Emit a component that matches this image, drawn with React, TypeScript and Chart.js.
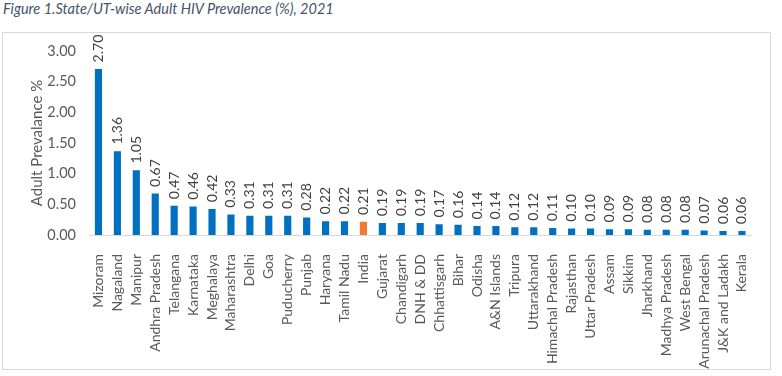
import React, { useEffect, useRef } from "react";
import { Chart, registerables } from "chart.js";

Chart.register(...registerables);

const TITLE = "Figure 1.State/UT-wise Adult HIV Prevalence (%), 2021";
const Y_TITLE = "Adult Prevalance %";

const categories = [
  "Mizoram", "Nagaland", "Manipur", "Andhra Pradesh", "Telangana", "Karnataka",
  "Meghalaya", "Maharashtra", "Delhi", "Goa", "Puducherry", "Punjab", "Haryana",
  "Tamil Nadu", "India", "Gujarat", "Chandigarh", "DNH & DD", "Chhattisgarh",
  "Bihar", "Odisha", "A&N Islands", "Tripura", "Uttarakhand", "Himachal Pradesh",
  "Rajasthan", "Uttar Pradesh", "Assam", "Sikkim", "Jharkhand", "Madhya Pradesh",
  "West Bengal", "Arunachal Pradesh", "J&K and Ladakh", "Kerala",
];

const prevalence = [
  2.7, 1.36, 1.05, 0.67, 0.47, 0.46, 0.42, 0.33, 0.31, 0.31, 0.31, 0.28, 0.22,
  0.22, 0.21, 0.19, 0.19, 0.19, 0.17, 0.16, 0.14, 0.14, 0.12, 0.12, 0.11, 0.1,
  0.1, 0.09, 0.09, 0.08, 0.08, 0.08, 0.07, 0.06, 0.06,
];

const highlight = "India";

const FONT = "Lato, 'Open Sans', sans-serif";

const valueLabels = {
  id: "valueLabels",
  afterDatasetsDraw(chart: any) {
    const ctx = chart.ctx;
    const meta = chart.getDatasetMeta(0);
    const data = chart.data.datasets[0].data as number[];
    ctx.save();
    ctx.fillStyle = "#404040";
    ctx.font = `14px ${FONT}`;
    ctx.textAlign = "left";
    ctx.textBaseline = "middle";
    meta.data.forEach((bar: any, i: number) => {
      ctx.save();
      ctx.translate(bar.x, bar.y - 7);
      ctx.rotate(-Math.PI / 2);
      ctx.fillText(data[i].toFixed(2), 0, 0);
      ctx.restore();
    });
    ctx.restore();
  },
};

export default function App() {
  const ref = useRef<HTMLCanvasElement>(null);

  useEffect(() => {
    document.body.style.margin = "0";
    const chart = new Chart(ref.current!, {
      type: "bar",
      data: {
        labels: categories,
        datasets: [
          {
            data: prevalence,
            backgroundColor: categories.map((c) => (c === highlight ? "#ED7D31" : "#0070C0")),
            barThickness: 6.5,
          },
        ],
      },
      options: {
        animation: false,
        responsive: false,
        maintainAspectRatio: false,
        layout: { padding: { top: 18, right: 17, left: 25, bottom: 0 } },
        plugins: { legend: { display: false }, tooltip: { enabled: false } },
        scales: {
          x: {
            grid: { display: false },
            border: { display: true, color: "#D9D9D9", width: 1 },
            ticks: {
              autoSkip: false,
              maxRotation: 90,
              minRotation: 90,
              padding: 11,
              color: "#595959",
              font: { family: FONT, size: 14 },
            },
            afterFit(scale: any) {
              scale.height = 134;
            },
          },
          y: {
            min: 0,
            max: 3,
            grid: { display: false },
            border: { display: false },
            ticks: {
              stepSize: 0.5,
              padding: 5,
              color: "#595959",
              font: { family: FONT, size: 14.5 },
              callback: (v: any) => Number(v).toFixed(2),
            },
            title: {
              display: true,
              text: Y_TITLE,
              color: "#595959",
              font: { family: FONT, size: 15 },
              padding: { top: 0, bottom: 0 },
            },
            afterFit(scale: any) {
              scale.width = 61;
            },
          },
        },
      },
      plugins: [valueLabels],
    });
    return () => chart.destroy();
  }, []);

  return (
    <div style={{ position: "relative", width: 782, height: 376, background: "#fff" }}>
      <div
        style={{
          position: "absolute",
          left: 3,
          top: -1,
          fontFamily: FONT,
          fontStyle: "italic",
          fontSize: 14.5,
          color: "#44546A",
          whiteSpace: "nowrap",
          lineHeight: "20px",
        }}
      >
        {TITLE}
      </div>
      <div
        style={{
          position: "absolute",
          left: 2,
          top: 32,
          width: 767,
          height: 336,
          border: "1px solid #D9D9D9",
        }}
      >
        <canvas ref={ref} width={767} height={336} style={{ display: "block" }} />
      </div>
    </div>
  );
}
